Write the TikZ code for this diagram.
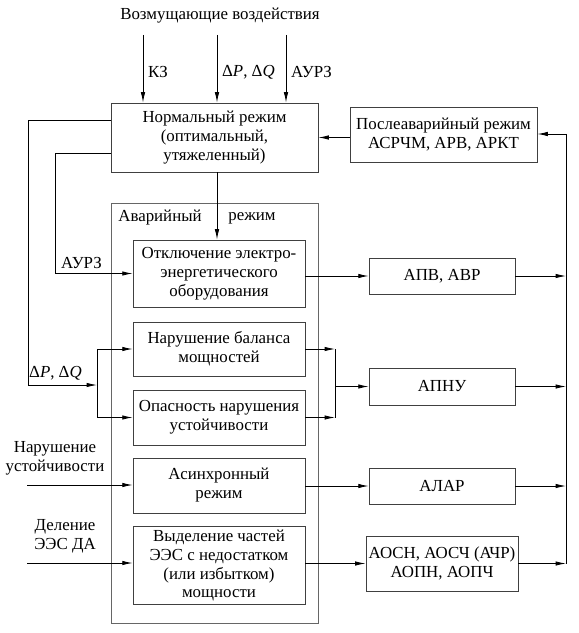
\documentclass[tikz,border=0pt]{standalone}
\usepackage{fontspec}
\setmainfont{Liberation Serif}
\usetikzlibrary{arrows.meta,positioning}

\tikzset{
  blok/.style={draw=black!75, line width=0.5pt, align=center, inner sep=2pt},
  arr/.style={-{Latex[length=2.6mm,width=1.1mm]}, line width=0.6pt},
  lin/.style={line width=0.6pt},
}
\newcommand{\dpdq}{Δ\textit{P}, Δ\textit{Q}}

\begin{document}
\begin{tikzpicture}[font=\fontsize{12}{13.5}\selectfont]
		\useasboundingbox (0,0) rectangle (14.475,-15.825);
		
		% Заголовок и воздействия
		\node (title) at (5.5,-0.4) {Возмущающие воздействия};
		\coordinate (kz) at (3.575,-0.875);
		\coordinate (dpq) at (5.425,-0.875);
		\coordinate (aurz) at (7.15,-0.875);
		
		% Нормальный и послеаварийный режим
		\node[blok, minimum width=5.175cm, minimum height=1.725cm] (norm) at (5.3625,-3.4375)
			{Нормальный режим\\(оптимальный,\\утяжеленный)};
		\node[blok, minimum width=4.675cm, minimum height=1.375cm] (posle) at (11.0875,-3.3625)
			{Послеаварийный режим\\АСРЧМ, АРВ, АРКТ};
		
		\draw[arr] (kz) -- (kz |- norm.north) node[pos=0.55, right] {КЗ};
		\draw[arr] (dpq) -- (dpq |- norm.north) node[pos=0.55, right] {\dpdq};
		\draw[arr] (aurz) -- (aurz |- norm.north) node[pos=0.55, right] {АУРЗ};
		
		% Аварийный режим
		\draw[black!60, line width=0.5pt] (2.775,-5.075) rectangle (7.95,-15.575);
		\node at (4.0,-5.45) {Аварийный};
		\node at (6.3,-5.45) {режим};
		
		\node[blok, minimum width=4.3cm, minimum height=1.675cm] (otkl) at (5.475,-6.8375)
			{Отключение электро-\\энергетического\\оборудования};
		\node[blok, minimum width=4.3cm, minimum height=1.35cm] (balans) at (5.475,-8.725)
			{Нарушение баланса\\мощностей};
		\node[blok, minimum width=4.3cm, minimum height=1.375cm] (opasn) at (5.475,-10.4375)
			{Опасность нарушения\\устойчивости};
		\node[blok, minimum width=4.3cm, minimum height=1.375cm] (asinh) at (5.475,-12.1375)
			{Асинхронный\\режим};
		\node[blok, minimum width=4.3cm, minimum height=1.925cm] (vydel) at (5.475,-14.1375)
			{Выделение частей\\ЭЭС с недостатком\\(или избытком)\\мощности};
		
		% Автоматика
		\node[blok, minimum width=3.65cm, minimum height=0.9cm] (apv) at (11.05,-6.9) {АПВ, АВР};
		\node[blok, minimum width=3.65cm, minimum height=0.925cm] (apnu) at (11.05,-9.6625) {АПНУ};
		\node[blok, minimum width=3.65cm, minimum height=0.9cm] (alar) at (11.05,-12.15) {АЛАР};
		\node[blok, minimum width=3.65cm, minimum height=1.375cm] (aosn) at (11.05,-14.0875)
			{АОСН, АОСЧ (АЧР)\\АОПН, АОПЧ};
		
		% Связи внутри
		\coordinate (down) at (5.425,0);
		\draw[arr] (down |- norm.south) -- (down |- otkl.north);
		\draw[arr] (otkl.east |- apv.west) -- (apv.west);
		\coordinate (spr) at (8.375,0);
		\draw[arr] (balans.east) -- (balans.east -| spr);
		\draw[arr] (opasn.east) -- (opasn.east -| spr);
		\draw[lin] (balans.east -| spr) -- (opasn.east -| spr);
		\draw[arr] (spr |- apnu.west) -- (apnu.west);
		\draw[arr] (asinh.east |- alar.west) -- (alar.west);
		\draw[arr] (vydel.east |- aosn.west) -- (aosn.west);
		
		% Шина справа
		\coordinate (busT) at (14.15,-3.35);
		\coordinate (busB) at (14.15,-14.0875);
		\draw[lin] (busT) -- (busB);
		\draw[arr] (busT) -- (busT -| posle.east);
		\draw[arr] (posle.west |- norm.east) -- (norm.east);
		\draw[arr] (apv.east) -- (apv.east -| busT);
		\draw[arr] (apnu.east) -- (apnu.east -| busT);
		\draw[arr] (alar.east) -- (alar.east -| busT);
		\draw[arr] (aosn.east) -- (busB);
		
		% Обратные связи слева
		\coordinate (nw1) at (0,-3.0);
		\coordinate (nw2) at (0,-3.825);
		\coordinate (spl) at (2.425,-9.625);
		\draw[arr] (norm.west |- nw1) -- (0.7,-3.0) -- (0.7,-9.625) -- (spl)
			node[pos=0.5, above, xshift=-5pt] {\dpdq};
		\draw[arr] (spl) |- (balans.west);
		\draw[arr] (spl) |- (opasn.west);
		\draw[arr] (norm.west |- nw2) -- (1.375,-3.825) |- (otkl.west)
			node[pos=0.67, above] {АУРЗ};
		
		% Внешние входы
		\node[align=center] (narush) at (1.375,-11.45) {Нарушение\\устойчивости};
		\node[align=center] (delen) at (1.625,-13.4) {Деление\\ЭЭС ДА};
		\coordinate (in1) at (0.675,-12.125);
		\coordinate (in2) at (0.675,-14.075);
		\draw[arr] (in1) -- (in1 -| asinh.west);
		\draw[arr] (in2) -- (in2 -| vydel.west);
	\end{tikzpicture}
\end{document}
